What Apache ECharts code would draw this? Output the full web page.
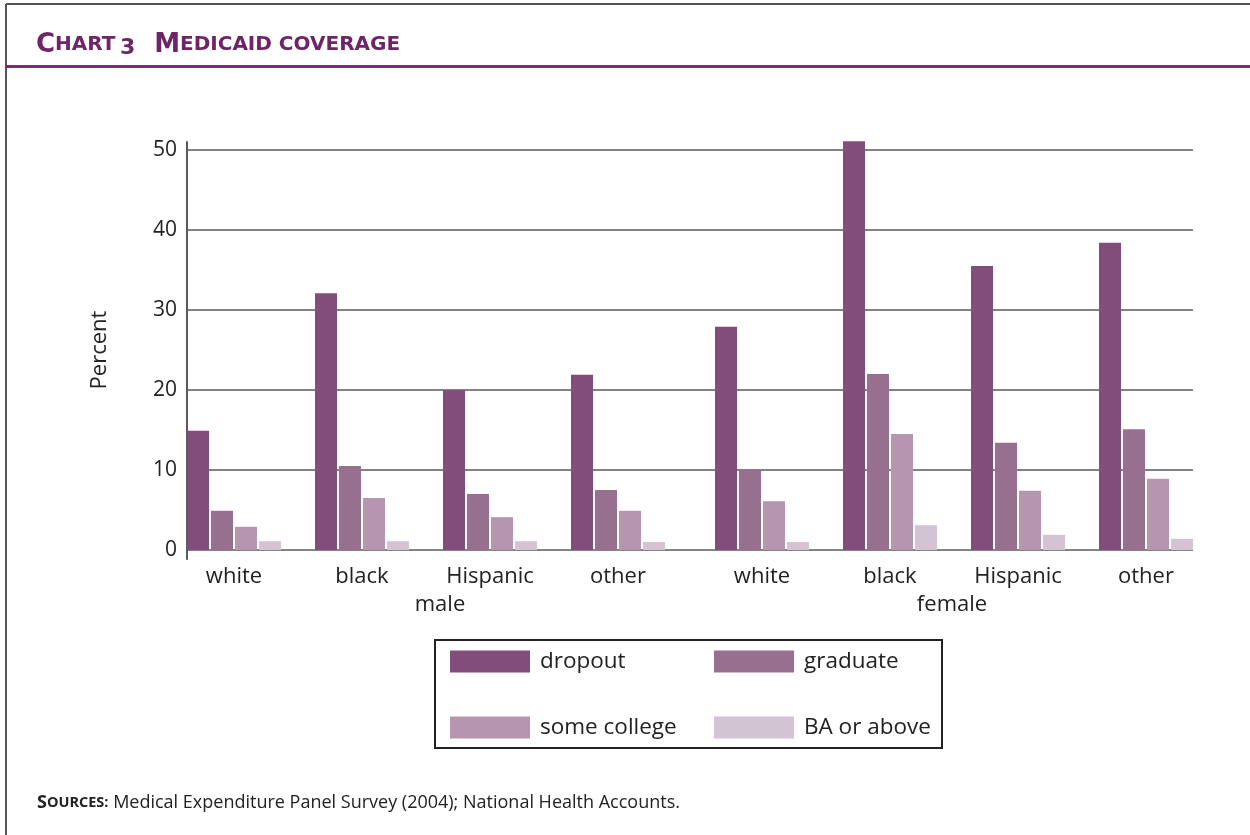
<!DOCTYPE html>
<html>
<head>
<meta charset="utf-8">
<script src="https://cdn.jsdelivr.net/npm/echarts@6/dist/echarts.min.js"></script>
<style>
html,body{margin:0;padding:0;background:#fff;}
#chart{width:1250px;height:835px;}
</style>
</head>
<body>
<div id="chart"></div>
<script>
const maleCategories = ['white','black','Hispanic','other'];
const femaleCategories = ['white','black','Hispanic','other'];
const sexGroups = ['male','female'];
const seriesNames = ['dropout','graduate','some college','BA or above'];
// male: white, black, Hispanic, other
const maleDropout     = [14.9, 32.1, 20.0, 21.9];
const maleGraduate    = [4.9, 10.5, 7.0, 7.5];
const maleSomeCollege = [2.9, 6.5, 4.1, 4.9];
const maleBA          = [1.1, 1.1, 1.1, 1.0];
// female: white, black, Hispanic, other
const femaleDropout     = [27.9, 51.1, 35.5, 38.4];
const femaleGraduate    = [10.1, 22.0, 13.4, 15.1];
const femaleSomeCollege = [6.1, 14.5, 7.4, 8.9];
const femaleBA          = [1.0, 3.1, 1.9, 1.4];
const yTicks = [0, 10, 20, 30, 40, 50];

const colors = ['#824c7b', '#98708f', '#b595b0', '#d3c4d4'];
const FONT = 'Open Sans';
const maleValues = [maleDropout, maleGraduate, maleSomeCollege, maleBA];
const femaleValues = [femaleDropout, femaleGraduate, femaleSomeCollege, femaleBA];

const catLabel = { fontSize: 22, color: '#222', margin: 16, fontFamily: FONT };

const chart = echarts.init(document.getElementById('chart'));
const series = [];
seriesNames.forEach((name, i) => {
  series.push({
    name: name, type: 'bar', xAxisIndex: 0, yAxisIndex: 0,
    data: maleValues[i], barWidth: 22, barGap: '9%', clip: false,
    itemStyle: { color: colors[i] }
  });
  series.push({
    name: name, type: 'bar', xAxisIndex: 1, yAxisIndex: 1,
    data: femaleValues[i], barWidth: 22, barGap: '9%', clip: false,
    itemStyle: { color: colors[i] }
  });
});

const option = {
  backgroundColor: '#fff',
  animation: false,
  textStyle: { fontFamily: FONT },
  title: [
    {
      left: 31, top: 26,
      text: '{b|C}{s|HART} {n|3}    {b|M}{s|EDICAID COVERAGE}',
      textStyle: {
        rich: {
          b: { fontSize: 26, fontWeight: 'bold', color: '#6e2466', fontFamily: 'DejaVu Sans' },
          s: { fontSize: 20, fontWeight: 'bold', color: '#6e2466', fontFamily: 'DejaVu Sans' },
          n: { fontSize: 22, fontWeight: 'bold', color: '#6e2466', fontFamily: 'DejaVu Sans', padding: [6,0,0,0] }
        }
      }
    },
    {
      left: 32, top: 789,
      text: '{b|S}{s|OURCES:} {r|Medical Expenditure Panel Survey (2004); National Health Accounts.}',
      textStyle: {
        fontWeight: 'normal',
        rich: {
          b: { fontSize: 18, fontWeight: 'bold', color: '#222', fontFamily: FONT },
          s: { fontSize: 14.5, fontWeight: 'bold', color: '#222', fontFamily: FONT },
          r: { fontSize: 18, fontWeight: 'normal', color: '#222', fontFamily: FONT }
        }
      }
    }
  ],
  legend: [
    {
      orient: 'vertical', left: 445, top: 645,
      itemWidth: 80, itemHeight: 22, itemGap: 43,
      icon: 'rect',
      data: ['dropout', 'some college'],
      textStyle: { fontSize: 22.5, color: '#222', fontFamily: FONT, padding: [0,0,0,5] }
    },
    {
      orient: 'vertical', left: 709, top: 645,
      itemWidth: 80, itemHeight: 22, itemGap: 43,
      icon: 'rect',
      data: ['graduate', 'BA or above'],
      textStyle: { fontSize: 22.5, color: '#222', fontFamily: FONT, padding: [0,0,0,5] }
    }
  ],
  graphic: [
    { type: 'line', shape: { x1: 6, y1: 4, x2: 1250, y2: 4 }, style: { stroke: '#555', lineWidth: 2 } },
    { type: 'line', shape: { x1: 6, y1: 4, x2: 6, y2: 835 }, style: { stroke: '#555', lineWidth: 2 } },
    { type: 'line', shape: { x1: 5, y1: 66.5, x2: 1250, y2: 66.5 }, style: { stroke: '#7a2a70', lineWidth: 3 } },
    { type: 'rect', shape: { x: 435, y: 640, width: 507, height: 108 }, style: { fill: 'none', stroke: '#222', lineWidth: 2 } }
  ],
  grid: [
    { left: 170, width: 512, top: 150, bottom: 285 },   // male bars
    { left: 698, width: 512, top: 150, bottom: 285 },   // female bars
    { left: 187, width: 1006, top: 150, bottom: 285 },  // gridlines + y labels
    { left: 184, width: 1024, top: 150, bottom: 285 },  // sex labels
    { left: 187, width: 10, top: 142, bottom: 276 }     // y axis line
  ],
  xAxis: [
    { type: 'category', gridIndex: 0, data: maleCategories, axisLine: { show: false }, axisTick: { show: false }, axisLabel: catLabel },
    { type: 'category', gridIndex: 1, data: femaleCategories, axisLine: { show: false }, axisTick: { show: false }, axisLabel: catLabel },
    { type: 'value', gridIndex: 2, show: false },
    {
      type: 'category', gridIndex: 3, data: sexGroups,
      axisLine: { show: false }, axisTick: { show: false },
      axisLabel: { fontSize: 22, color: '#222', margin: 44, fontFamily: FONT }
    },
    { type: 'value', gridIndex: 4, show: false }
  ],
  yAxis: [
    { type: 'value', gridIndex: 0, min: 0, max: 50, interval: 10, show: false },
    { type: 'value', gridIndex: 1, min: 0, max: 50, interval: 10, show: false },
    {
      type: 'value', gridIndex: 2, min: yTicks[0], max: yTicks[yTicks.length-1], interval: 10,
      axisLine: { show: false }, axisTick: { show: false },
      axisLabel: { fontSize: 21, color: '#222', margin: 10, fontFamily: FONT },
      splitLine: { show: true, lineStyle: { color: '#5a5a5a', width: 1.6 } },
      name: 'Percent', nameLocation: 'middle', nameGap: 76, nameRotate: 90,
      nameTextStyle: { fontSize: 22, color: '#222', fontFamily: FONT }
    },
    { type: 'value', gridIndex: 3, show: false },
    {
      type: 'value', gridIndex: 4, min: 0, max: 1,
      axisLine: { show: true, lineStyle: { color: '#5a5a5a', width: 2 } },
      axisTick: { show: false }, axisLabel: { show: false }, splitLine: { show: false }
    }
  ],
  series: series
};
chart.setOption(option);
</script>
</body>
</html>
